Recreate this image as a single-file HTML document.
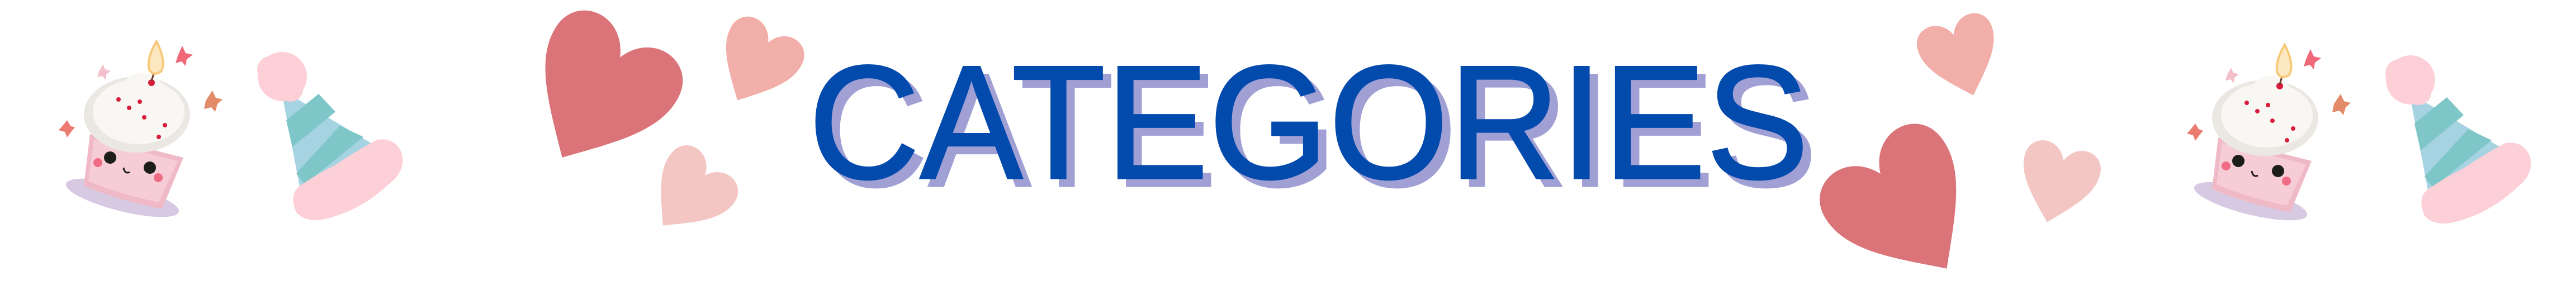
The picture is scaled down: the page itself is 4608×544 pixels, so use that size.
<!DOCTYPE html>
<html><head><meta charset="utf-8"><style>
html,body{margin:0;padding:0;background:#fff;}
svg{display:block}
</style></head><body>
<svg width="4608" height="544" viewBox="0 0 4608 544" xmlns="http://www.w3.org/2000/svg">
<defs>
<path id="heart" d="M50 95 C28 72 6 52 8 28 C10 6 40 2 50 26 C60 2 90 6 92 28 C94 52 72 72 50 95Z"/>
<g id="deco">
  <g>
    <ellipse cx="219" cy="354" rx="104" ry="24" transform="rotate(14 219 354)" fill="#d8c9e2"/>
    <path d="M161 240 L328 282 L290 374 Q200 355 150 332 Z" fill="#f0b9c7"/>
    <path d="M168 250 L318 288 L284 362 Q205 345 158 324 Z" fill="#f6cdd7"/>
    <ellipse cx="245" cy="205" rx="95" ry="68" fill="#ebe7e2"/>
    <ellipse cx="248" cy="200" rx="82" ry="58" fill="#f9f7f4"/>
    <ellipse cx="255" cy="160" rx="36" ry="30" fill="#f9f7f4"/>
    <circle cx="212" cy="178" r="4" fill="#d81c3a"/><circle cx="250" cy="182" r="4" fill="#d81c3a"/>
    <circle cx="258" cy="210" r="4" fill="#d81c3a"/><circle cx="295" cy="224" r="4" fill="#d81c3a"/>
    <circle cx="284" cy="245" r="4" fill="#d81c3a"/><circle cx="231" cy="193" r="4" fill="#d81c3a"/>
    <circle cx="271" cy="148" r="6" fill="#d81c3a"/>
    <line x1="271" y1="145" x2="276" y2="128" stroke="#6b3a2a" stroke-width="3"/>
    <path d="M280 74 Q298 110 288 128 Q272 138 266 122 Q264 100 280 74Z" fill="#fbe7c0" stroke="#f8c97a" stroke-width="4"/>
    <circle cx="197" cy="282" r="11" fill="#1d1d1b"/><circle cx="268" cy="300" r="11" fill="#1d1d1b"/>
    <circle cx="175" cy="291" r="8" fill="#f06c85"/><circle cx="283" cy="318" r="8" fill="#f06c85"/>
    <path d="M221 300 Q223 312 232 308" stroke="#1d1d1b" stroke-width="3" fill="none"/>
    <polygon points="326,82 332,95 345,98 334,106 332,118 325,110 314,113 318,100" fill="#ef6979"/>
    <polygon points="184,115 188,124 198,127 190,133 189,143 183,136 174,138 177,128" fill="#f2bfcb"/>
    <polygon points="380,162 386,175 398,178 389,186 385,200 378,192 365,195 368,180" fill="#e38a68"/>
    <polygon points="120,215 126,225 134,228 128,235 120,246 116,236 105,233 112,225" fill="#ec7c72"/>
  </g>
  <g>
    <polygon points="503,160 541,360 690,272" fill="#a5d3e2"/>
    <polygon points="512,215 570,168 600,200 523,263" fill="#7ec6c8"/>
    <polygon points="530,310 608,225 650,245 545,330" fill="#7ec6c8"/>
    <path d="M530 380 Q515 345 540 330 Q570 310 600 295 Q640 268 675 250 Q705 245 718 272 Q728 305 695 330 Q655 368 605 385 Q552 405 530 380Z" fill="#fdd0d7"/>
    <circle cx="505" cy="137" r="44" fill="#fdd0d7"/>
    <circle cx="485" cy="125" r="25" fill="#fdd0d7"/>
    <circle cx="520" cy="160" r="22" fill="#fdd0d7"/>
  </g>
</g>
</defs>
<use href="#deco"/>
<use href="#deco" transform="translate(3807 6)"/>

<use href="#heart" fill="#db7479" transform="translate(1073 165) rotate(30) scale(3.0) translate(-50 -50)"/>
<use href="#heart" fill="#f2aea8" transform="translate(1355 112) rotate(28) scale(1.7) translate(-50 -50)"/>
<use href="#heart" fill="#f3c6c4" transform="translate(1235 345) rotate(40) scale(1.7) translate(-50 -50)"/>
<use href="#heart" fill="#f2aea8" transform="translate(3507 100) rotate(-18) scale(1.65) translate(-50 -50)"/>
<use href="#heart" fill="#db7479" transform="translate(3405 370) rotate(-35) scale(3.0) translate(-50 -50)"/>
<use href="#heart" fill="#f3c6c4" transform="translate(3681 326) rotate(15) scale(1.65) translate(-50 -50)"/>

<text x="1461" y="333" textLength="1790" lengthAdjust="spacingAndGlyphs" font-family="Liberation Sans, sans-serif" font-size="290" fill="#a0a0d4" stroke="#a0a0d4" stroke-width="3">CATEGORIES</text>
<text x="1446" y="319" textLength="1790" lengthAdjust="spacingAndGlyphs" font-family="Liberation Sans, sans-serif" font-size="290" fill="#034aad" stroke="#034aad" stroke-width="3">CATEGORIES</text>
</svg>
</body></html>
